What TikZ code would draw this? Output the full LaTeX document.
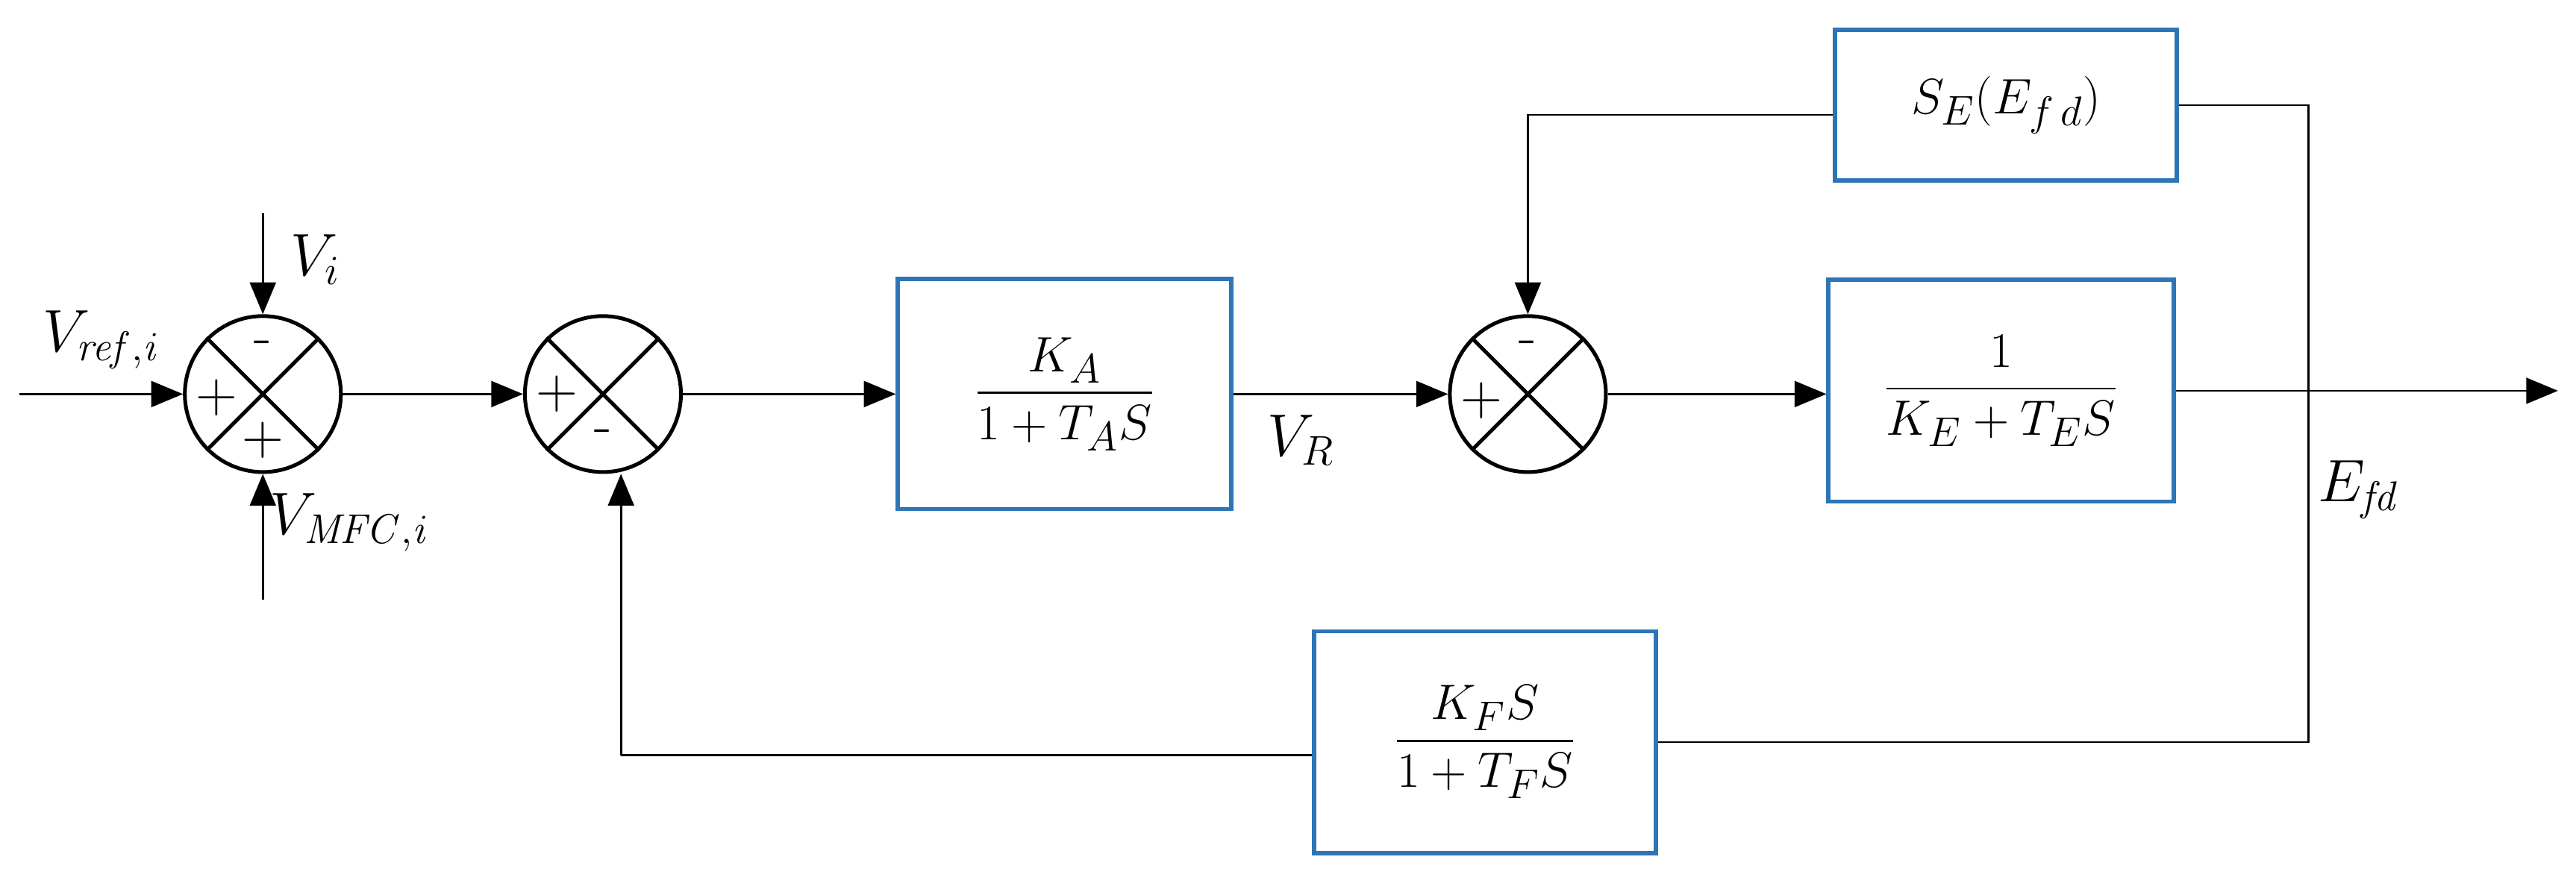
\documentclass[tikz,border=0pt]{standalone}
\usepackage{amsmath}
\usetikzlibrary{arrows.meta}
\definecolor{bx}{RGB}{46,117,182}
\begin{document}
\begin{tikzpicture}[x=0.02cm,y=-0.02cm,
  blk/.style={draw=bx,line width=1.5pt,inner sep=0pt,font=\fontsize{19}{22}\selectfont},
  sum/.style={draw,circle,line width=1.3pt,minimum size=1.9cm,inner sep=0pt},
  ln/.style={line width=0.7pt},
  ar/.style={ln,-{Triangle[length=11pt,width=9pt]}},
  lab/.style={font=\fontsize{21}{24}\selectfont},
  sg/.style={font=\fontsize{20}{20}\selectfont}]
\useasboundingbox (0,0) rectangle (1568,543);
\node[sum] (s1) at (160,240) {};
\node[sum] (s2) at (367,240) {};
\node[sum] (s3) at (930,240) {};
\foreach \s in {s1,s2,s3}{
  \draw[line width=1.3pt] (\s.45)--(\s.225) (\s.135)--(\s.315);}
\node[sg] at (132,242) {+};
\node[sg] at (160,212) {-};
\node[sg] at (160,268) {+};
\node[sg] at (339,240) {+};
\node[sg] at (367,266) {-};
\node[sg] at (902,244) {+};
\node[sg] at (930,212) {-};

\node[blk,minimum width=4.06cm,minimum height=2.8cm] (ka) at (648,240) {$\dfrac{K_A}{1+T_AS}$};
\node[blk,minimum width=4.2cm,minimum height=2.7cm] (ke) at (1218,238) {$\dfrac{1}{K_E+T_ES}$};
\node[blk,minimum width=4.16cm,minimum height=1.84cm] (se) at (1221,64) {$S_E(E_{f\,d})$};
\node[blk,minimum width=4.16cm,minimum height=2.7cm] (kf) at (904,452) {$\dfrac{K_FS}{1+T_FS}$};

\coordinate (in) at (12,240);
\coordinate (vi) at (160,130);
\coordinate (vm) at (160,365);
\coordinate (out) at (1557,238);
\coordinate (j1) at (1405,64);
\coordinate (j2) at (1405,452);
\coordinate (c1) at (930,70);
\coordinate (c2) at (378,460);

\draw[ar] (in)--(s1.west);
\draw[ar] (vi)--(s1.north);
\draw[ar] (vm)--(s1.south);
\draw[ar] (s1.east)--(s2.west);
\draw[ar] (s2.east)--(ka.west);
\draw[ar] (ka.east)--(s3.west);
\draw[ar] (s3.east)--(ke.west|-s3.east);
\draw[ar] (ke.east)--(out);
\draw[ln] (se.east|-j1)--(j1)--(j2)--(kf.east|-j2);
\draw[ar] (se.west|-c1)--(c1)--(s3.north);
\draw[ln] (kf.west|-c2)--(c2);
\draw[ar] (c2)--(c2|-s2.south);

\node[lab] at (62,207) {$V_{\mathit{ref,i}}$};
\node[lab] at (192,158) {$V_{i}$};
\node[lab] at (213,318) {$V_{\mathit{MFC,i}}$};
\node[lab] at (792,268) {$V_{R}$};
\node[lab] at (1436,298) {$E_{\mathit{fd}}$};
\end{tikzpicture}
\end{document}
